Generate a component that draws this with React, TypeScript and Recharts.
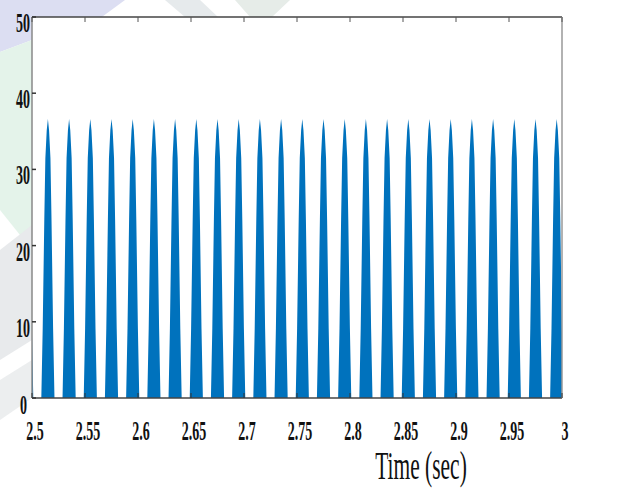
import React from 'react';
import { AreaChart, Area, XAxis, YAxis, CartesianGrid } from 'recharts';

// Tick labels
const xTicks = [2.5, 2.55, 2.6, 2.65, 2.7, 2.75, 2.8, 2.85, 2.9, 2.95, 3];
const yTicks = [0, 10, 20, 30, 40, 50];

// Peak times of the pulses (sec) (one partly visible at the left edge)
const peakTimes = [
  2.495, 2.515, 2.535, 2.555, 2.575, 2.595, 2.615, 2.635, 2.655, 2.675, 2.695,
  2.715, 2.735, 2.755, 2.775, 2.795, 2.815, 2.835, 2.855, 2.875, 2.895,
  2.915, 2.935, 2.955, 2.975, 2.995,
];
// Peak values of each pulse
const peakValues = [
  36.6, 36.6, 36.6, 36.6, 36.6, 36.6, 36.6, 36.6, 36.6, 36.6, 36.6,
  36.6, 36.6, 36.6, 36.6, 36.6, 36.6, 36.6, 36.6, 36.6, 36.6,
  36.6, 36.6, 36.6, 36.6, 36.6,
];
// Pulse envelope: time offset from peak (sec) and fraction of peak
const pulseOffsets = [-0.0062, -0.0049, -0.0034, -0.0024, -0.0011, 0, 0.0011, 0.0024, 0.0034, 0.0049, 0.0062];
const pulseShape = [0, 0.25, 0.64, 0.86, 0.96, 1, 0.96, 0.86, 0.64, 0.25, 0];

const data: { t: number; v: number }[] = [];
peakTimes.forEach((pt, i) => {
  pulseOffsets.forEach((off, j) => {
    data.push({ t: pt + off, v: peakValues[i] * pulseShape[j] });
  });
});

const FONT = '"Liberation Serif", "Times New Roman", serif';
const SX = 0.5;
const TICK_FS = 28;

const fmt = (v: number) => String(Math.round(v * 100) / 100);

const BottomTick = (p: any) => {
  const { x, y, payload } = p;
  return (
    <g>
      <line x1={x} y1={y} x2={x} y2={y - 5} stroke="#333" strokeWidth={1} />
      <text
        transform={`translate(${x + 3},${y + 42}) scale(${SX},1)`}
        textAnchor="middle"
        fontFamily={FONT}
        fontWeight="bold"
        fontSize={TICK_FS}
        fill="#111"
      >
        {fmt(payload.value)}
      </text>
    </g>
  );
};

const TopTick = (p: any) => {
  const { x, y } = p;
  return <line x1={x} y1={y} x2={x} y2={y + 5} stroke="#555" strokeWidth={1} />;
};

const LeftTick = (p: any) => {
  const { x, y, payload } = p;
  const isZero = payload.value === 0;
  const dy = isZero ? 16 : 15;
  const dx = isZero ? -5 : -2;
  return (
    <g>
      <line x1={x} y1={y} x2={x + 4} y2={y} stroke="#333" strokeWidth={1.5} />
      <text
        transform={`translate(${x + dx},${y + dy}) scale(${SX},1)`}
        textAnchor="end"
        fontFamily={FONT}
        fontWeight="bold"
        fontSize={TICK_FS}
        fill="#111"
      >
        {fmt(payload.value)}
      </text>
    </g>
  );
};

const RightTick = (p: any) => {
  const { x, y } = p;
  return <line x1={x} y1={y} x2={x - 5} y2={y} stroke="#333" strokeWidth={1.5} />;
};

const Title = (p: any) => {
  const vb = p.viewBox || { x: 32, y: 398 };
  return (
    <text
      transform={`translate(${vb.x + 389},${vb.y + 81}) scale(0.55,1)`}
      textAnchor="middle"
      fontFamily={FONT}
      fontSize={39}
      fill="#111"
    >
      Time (sec)
    </text>
  );
};

export default function App() {
  return (
    <div style={{ position: 'absolute', left: 0, top: 0, width: 640, height: 488, background: '#fff' }}>
      <svg width={640} height={488} style={{ position: 'absolute', left: 0, top: 0 }}>
        <polygon points="0,0 125,0 95,22 32,40 0,52" fill="#dcdef2" />
        <polygon points="0,52 32,40 32,250 0,210" fill="#e4f3ea" />
        <polygon points="0,250 32,225 32,340 0,360" fill="#e8eaec" />
        <polygon points="0,380 32,360 32,398 0,420" fill="#eceeef" />
        <polygon points="165,0 200,0 218,17 185,17" fill="#e6eaec" />
        <polygon points="235,0 290,0 272,17 250,17" fill="#e6ece8" />
      </svg>
      <div style={{ position: 'absolute', left: 0, top: 0 }}>
        <AreaChart width={640} height={488} data={data} margin={{ top: 0, right: 0, bottom: 0, left: 0 }}>
          <CartesianGrid fill="#fff" horizontal={false} vertical={false} xAxisId="bottom" yAxisId="left" />
          <XAxis
            xAxisId="bottom"
            dataKey="t"
            type="number"
            domain={[2.5, 3]}
            ticks={xTicks}
            allowDataOverflow
            height={90}
            tickSize={0}
            tickMargin={0}
            tickLine={false}
            axisLine={{ stroke: '#444', strokeWidth: 1.5 }}
            tick={<BottomTick />}
            label={Title}
            interval={0}
          />
          <XAxis
            xAxisId="top"
            orientation="top"
            dataKey="t"
            type="number"
            domain={[2.5, 3]}
            ticks={xTicks}
            allowDataOverflow
            height={17}
            tickSize={0}
            tickMargin={0}
            tickLine={false}
            axisLine={{ stroke: '#444', strokeWidth: 1.5 }}
            tick={<TopTick />}
            interval={0}
          />
          <YAxis
            yAxisId="left"
            type="number"
            domain={[0, 50]}
            ticks={yTicks}
            width={32}
            tickSize={0}
            tickMargin={0}
            tickLine={false}
            axisLine={{ stroke: '#888', strokeWidth: 1.5 }}
            tick={<LeftTick />}
            interval={0}
          />
          <YAxis
            yAxisId="right"
            orientation="right"
            type="number"
            domain={[0, 50]}
            ticks={yTicks}
            width={78}
            tickSize={0}
            tickMargin={0}
            tickLine={false}
            axisLine={{ stroke: '#999', strokeWidth: 1.5 }}
            tick={<RightTick />}
            interval={0}
          />
          <Area
            xAxisId="bottom"
            yAxisId="left"
            dataKey="v"
            type="linear"
            stroke="none"
            fill="#0072BD"
            fillOpacity={1}
            isAnimationActive={false}
            baseValue={0}
          />
        </AreaChart>
      </div>
    </div>
  );
}
